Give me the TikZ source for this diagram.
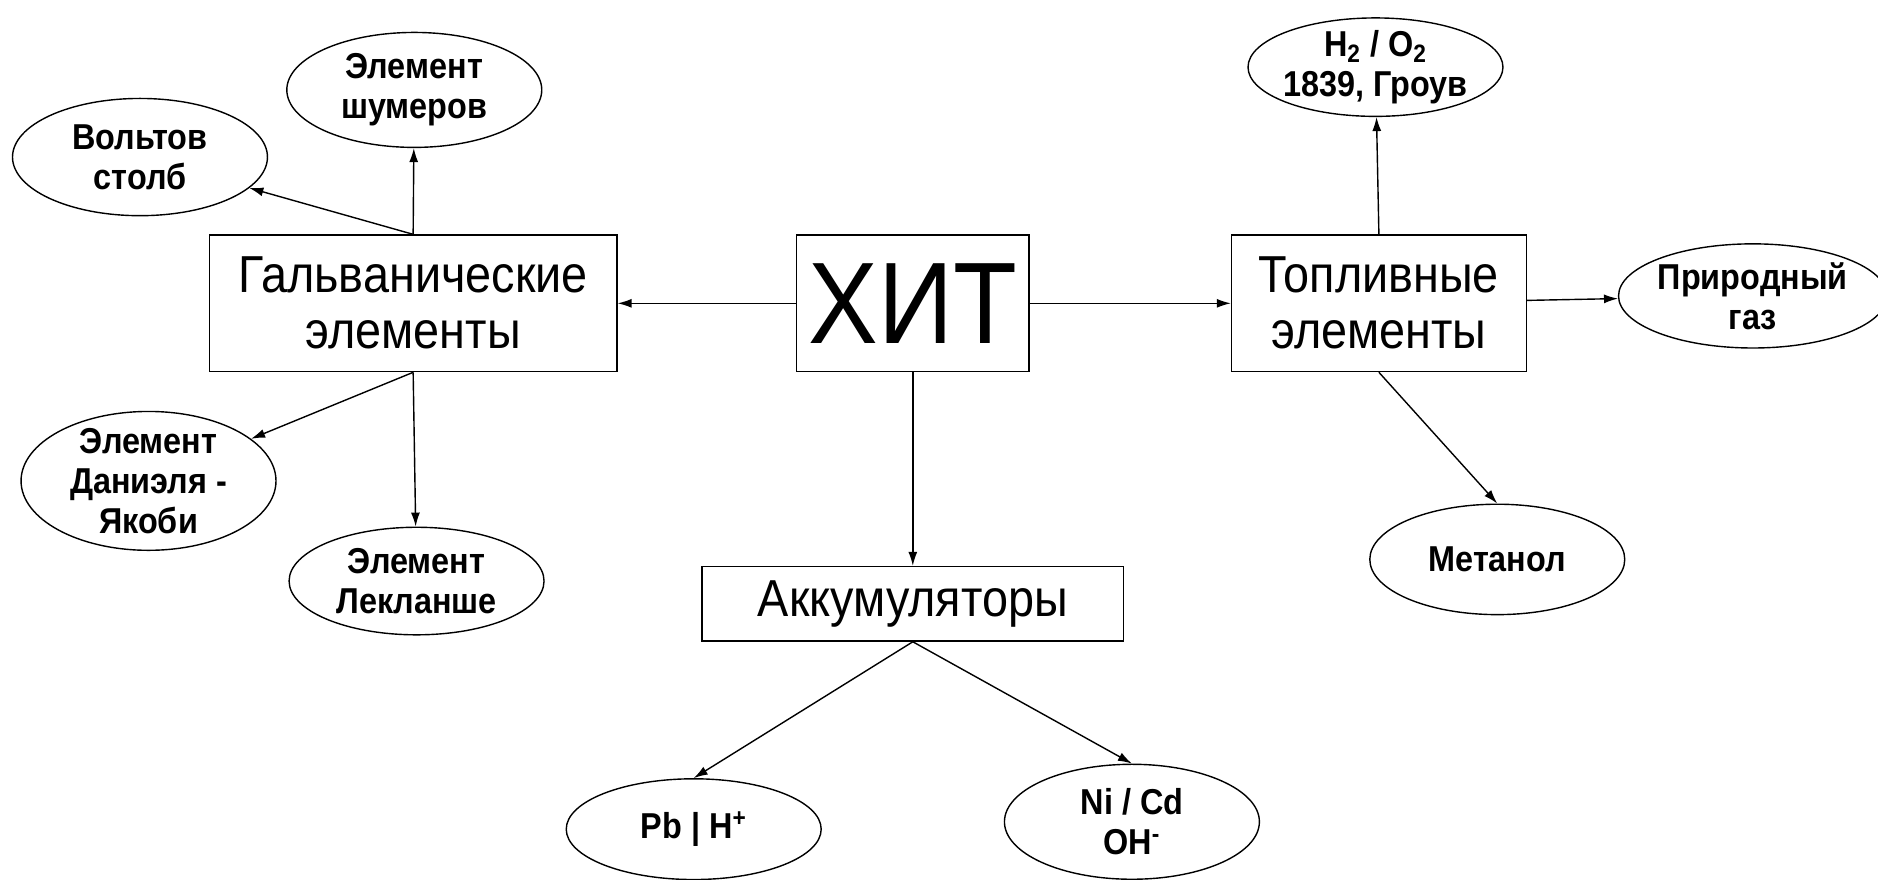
\documentclass[tikz,border=0pt]{standalone}
\usepackage{fontspec}
\setmainfont[FakeStretch=0.9]{Liberation Sans}
\usetikzlibrary{shapes.geometric,positioning,arrows.meta}

\begin{document}
\begin{tikzpicture}[>={Latex[length=7pt,width=4.5pt]},line width=0.7pt,on grid,
    box/.style={draw,rectangle,minimum height=2.4cm,inner sep=0pt,align=center,
                font=\fontsize{26}{28}\selectfont},
    leaf/.style={draw,ellipse,minimum width=4.48cm,minimum height=2.02cm,inner sep=0pt,
                 align=center,font=\fontsize{18}{20}\selectfont\bfseries}]
    \useasboundingbox (-16.04,5.33) rectangle (16.96,-10.12);

    \node[box,minimum width=4.08cm,font=\fontsize{58}{60}\selectfont] (hit) {ХИТ};
    \node[box,minimum width=7.16cm] (galv) [left=8.78cm of hit]  {Гальванические\\элементы};
    \node[box,minimum width=5.18cm] (fuel) [right=8.19cm of hit] {Топливные\\элементы};
    \node[box,minimum width=7.41cm,minimum height=1.31cm] (akk) [below=5.28cm of hit] {Аккумуляторы};

    \node[leaf,minimum height=2.06cm] (volta)  [above left=2.57cm and 4.80cm of galv]  {Вольтов\\столб};
    \node[leaf]                       (sumer)  [above right=3.75cm and 0.02cm of galv] {Элемент\\шумеров};
    \node[leaf,minimum height=2.44cm,inner sep=-3pt] (daniel) [below left=3.12cm and 4.65cm of galv] {Элемент\\Даниэля -\\Якоби};
    \node[leaf,minimum height=1.89cm] (leclan) [below right=4.88cm and 0.06cm of galv] {Элемент\\Лекланше};

    \node[leaf,minimum height=1.73cm,inner sep=-2pt] (grove) [above left=4.15cm and 0.06cm of fuel] {H\textsubscript{2} / O\textsubscript{2}\\1839, Гроув};
    \node[leaf,minimum height=1.83cm] (gas)   [above right=0.13cm and 6.57cm of fuel] {Природный\\газ};
    \node[leaf,minimum height=1.94cm] (meth)  [below right=4.50cm and 2.08cm of fuel] {Метанол};

    \node[leaf,minimum height=1.77cm] (pb)   [below left=3.96cm and 3.85cm of akk]  {Pb | H\textsuperscript{+}};
    \node[leaf]                       (nicd) [below right=3.83cm and 3.85cm of akk] {Ni / Cd\\OH\textsuperscript{-}};

    \path[->] (hit) edge (galv)
              (hit) edge (fuel)
              (hit) edge (akk)
              (galv.north) edge (volta)
              (galv.north) edge (sumer)
              (galv.south) edge (daniel)
              (galv.south) edge (leclan)
              (fuel.north) edge (grove)
              (fuel)       edge (gas)
              (fuel.south) edge (meth.north)
              (akk.south)  edge (pb.north)
              (akk.south)  edge (nicd.north);

\end{tikzpicture}
\end{document}
